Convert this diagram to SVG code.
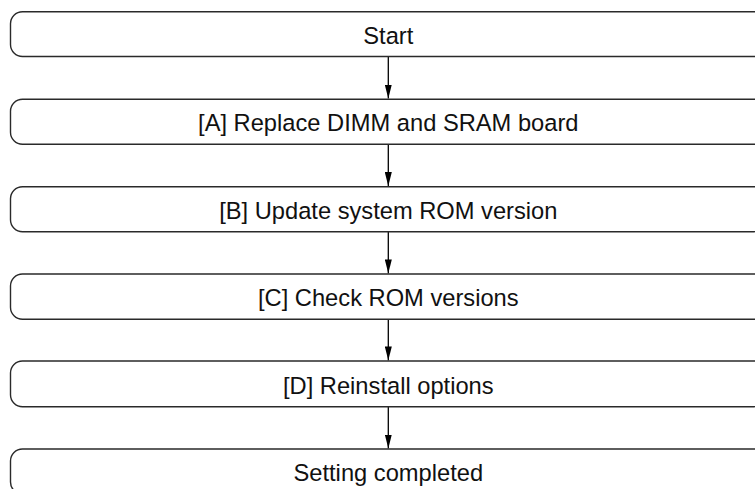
<svg xmlns="http://www.w3.org/2000/svg" width="755" height="489" viewBox="0 0 755 489">
<defs>
<style>
.box{fill:#fff;stroke:#2a2a2a;stroke-width:1.4}
.lbl{font-family:"Liberation Sans",Arial,sans-serif;font-size:23.7px;fill:#111;text-anchor:middle}
.conn{stroke:#000;stroke-width:1.3;fill:none;marker-end:url(#ah)}
</style>
<marker id="ah" markerUnits="userSpaceOnUse" markerWidth="14" markerHeight="7" refX="14" refY="3.5" orient="auto" viewBox="0 0 14 7">
<path d="M0,0 L14,3.5 L0,7 Z" fill="#000"/>
</marker>
</defs>
<rect width="755" height="489" fill="#fff"/>
<g id="connectors">
<line class="conn" x1="388.3" y1="56.5" x2="388.3" y2="98.6"/>
<line class="conn" x1="388.3" y1="144.3" x2="388.3" y2="186.1"/>
<line class="conn" x1="388.3" y1="231.7" x2="388.3" y2="273.4"/>
<line class="conn" x1="388.3" y1="319.3" x2="388.3" y2="360.4"/>
<line class="conn" x1="388.3" y1="406.7" x2="388.3" y2="448.5"/>
</g>
<g id="start">
<rect class="box" x="10.5" y="11.7" width="755.5" height="44.8" rx="12"/>
<text class="lbl" x="388.3" y="43.5">Start</text>
</g>
<g id="stepA">
<rect class="box" x="10.5" y="99.2" width="755.5" height="45.1" rx="12"/>
<text class="lbl" x="388.3" y="131.3">[A] Replace DIMM and SRAM board</text>
</g>
<g id="stepB">
<rect class="box" x="10.5" y="186.7" width="755.5" height="45" rx="12"/>
<text class="lbl" x="388.3" y="218.7">[B] Update system ROM version</text>
</g>
<g id="stepC">
<rect class="box" x="10.5" y="274" width="755.5" height="45.3" rx="12"/>
<text class="lbl" x="388.3" y="306.2">[C] Check ROM versions</text>
</g>
<g id="stepD">
<rect class="box" x="10.5" y="361" width="755.5" height="45.7" rx="12"/>
<text class="lbl" x="388.3" y="393.5">[D] Reinstall options</text>
</g>
<g id="end">
<rect class="box" x="10.5" y="449" width="755.5" height="45" rx="12"/>
<text class="lbl" x="388.3" y="481">Setting completed</text>
</g>
</svg>
